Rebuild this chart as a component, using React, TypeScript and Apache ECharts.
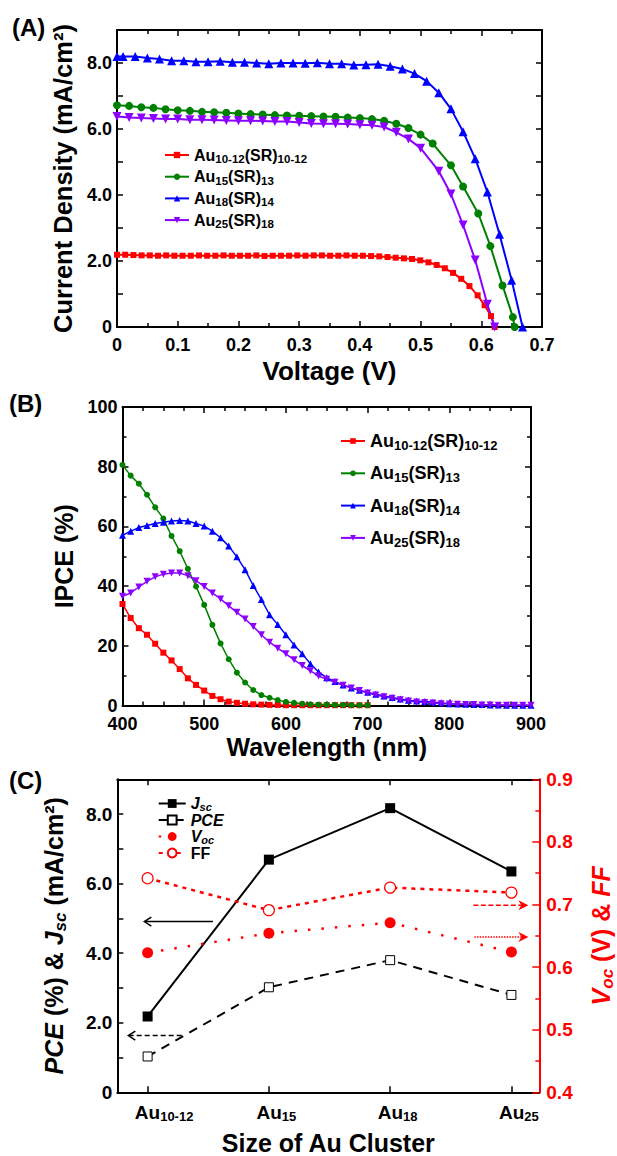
import React, { useEffect, useRef } from 'react';
import * as echarts from 'echarts';

const FONT = '"Liberation Sans", Arial, Helvetica, sans-serif';

// ---------------- Panel A : J-V curves ----------------
const A_NAMES = ['Au10-12(SR)10-12', 'Au15(SR)13', 'Au18(SR)14', 'Au25(SR)18'];
const COLORS = ['#ff0000', '#008000', '#0000ff', '#8b00ff'];
const SYMBOLS = ['rect', 'circle', 'triangle', 'triangle'];
const ROTATE = [0, 0, 0, 180];

const redV = [0, 0.0135, 0.027, 0.0405, 0.054, 0.0675, 0.081, 0.0945, 0.108, 0.1215, 0.135, 0.1485, 0.162, 0.1755, 0.189, 0.2025, 0.216, 0.2295, 0.243, 0.2565, 0.27, 0.2835, 0.297, 0.3105, 0.324, 0.3375, 0.351, 0.3645, 0.378, 0.3915, 0.405, 0.4185, 0.432, 0.4455, 0.459, 0.4725, 0.486, 0.4995, 0.513, 0.5265, 0.54, 0.5535, 0.567, 0.5805, 0.594, 0.6055, 0.616, 0.622];
const redJ = [2.19, 2.19, 2.18, 2.17, 2.17, 2.16, 2.17, 2.16, 2.16, 2.16, 2.17, 2.16, 2.16, 2.17, 2.16, 2.16, 2.16, 2.17, 2.15, 2.16, 2.16, 2.16, 2.17, 2.16, 2.17, 2.17, 2.16, 2.16, 2.17, 2.16, 2.16, 2.15, 2.14, 2.12, 2.10, 2.08, 2.06, 2.02, 1.96, 1.88, 1.78, 1.64, 1.46, 1.24, 0.96, 0.66, 0.33, 0];

const greenV = [0, 0.02, 0.04, 0.06, 0.08, 0.1, 0.12, 0.14, 0.16, 0.18, 0.2, 0.22, 0.24, 0.26, 0.28, 0.3, 0.32, 0.34, 0.36, 0.38, 0.4, 0.42, 0.44, 0.46, 0.48, 0.5, 0.52, 0.55, 0.57, 0.595, 0.615, 0.635, 0.652, 0.655];
const greenJ = [6.72, 6.7, 6.66, 6.64, 6.6, 6.57, 6.55, 6.52, 6.51, 6.49, 6.47, 6.45, 6.44, 6.42, 6.41, 6.4, 6.39, 6.38, 6.37, 6.35, 6.33, 6.3, 6.25, 6.16, 6.03, 5.83, 5.56, 4.9, 4.26, 3.44, 2.45, 1.26, 0.3, 0];

const blueV = [0, 0.01, 0.03, 0.05, 0.07, 0.09, 0.11, 0.13, 0.15, 0.17, 0.19, 0.21, 0.23, 0.25, 0.27, 0.29, 0.31, 0.33, 0.35, 0.37, 0.39, 0.41, 0.43, 0.45, 0.47, 0.49, 0.51, 0.53, 0.55, 0.57, 0.59, 0.61, 0.63, 0.65, 0.668];
const blueJ = [8.2, 8.2, 8.2, 8.15, 8.12, 8.07, 8.07, 8.04, 8.04, 8.05, 8.02, 8.02, 8.0, 7.98, 8.0, 8.0, 7.99, 8.01, 7.98, 7.98, 7.94, 7.95, 7.96, 7.9, 7.82, 7.68, 7.45, 7.1, 6.61, 5.92, 5.1, 4.09, 2.81, 1.42, 0];

const purpleV = [0, 0.02, 0.04, 0.06, 0.08, 0.1, 0.12, 0.14, 0.16, 0.18, 0.2, 0.22, 0.24, 0.26, 0.28, 0.3, 0.32, 0.34, 0.36, 0.38, 0.4, 0.42, 0.44, 0.46, 0.48, 0.5, 0.53, 0.55, 0.57, 0.59, 0.61, 0.622];
const purpleJ = [6.38, 6.35, 6.33, 6.32, 6.3, 6.3, 6.28, 6.28, 6.27, 6.26, 6.25, 6.25, 6.24, 6.23, 6.23, 6.2, 6.17, 6.16, 6.16, 6.15, 6.13, 6.11, 6.06, 5.9, 5.7, 5.42, 4.72, 4.03, 3.09, 2.03, 0.69, 0];

const A_X = [redV, greenV, blueV, purpleV];
const A_Y = [redJ, greenJ, blueJ, purpleJ];

// ---------------- Panel B : IPCE ----------------
const wlShort = [400, 410, 420, 430, 440, 450, 460, 470, 480, 490, 500, 510, 520, 530, 540, 550, 560, 570, 580, 590, 600, 610, 620, 630, 640, 650, 660, 670, 680, 690, 700];
const wlLong = [400, 410, 420, 430, 440, 450, 460, 470, 480, 490, 500, 510, 520, 530, 540, 550, 560, 570, 580, 590, 600, 610, 620, 630, 640, 650, 660, 670, 680, 690, 700, 710, 720, 730, 740, 750, 760, 770, 780, 790, 800, 810, 820, 830, 840, 850, 860, 870, 880, 890, 900];
const ipceRed = [34.0, 29.3, 25.9, 23.7, 20.7, 17.7, 15.1, 12.2, 9.1, 6.9, 5.0, 3.2, 2.1, 1.3, 0.9, 0.6, 0.4, 0.3, 0.2, 0.2, 0.1, 0.1, 0.1, 0.1, 0.1, 0.1, 0.1, 0.1, 0.1, 0.1, 0.1];
const ipceGreen = [80.6, 77.0, 74.3, 70.6, 66.4, 62.6, 56.8, 51.7, 45.8, 39.9, 33.7, 27.0, 20.8, 15.5, 11.0, 7.7, 5.2, 3.5, 2.6, 1.8, 1.2, 0.9, 0.6, 0.4, 0.3, 0.3, 0.2, 0.2, 0.1, 0.1, 0.1];
const ipceBlue = [57.0, 58.4, 59.6, 60.3, 61.0, 61.4, 61.8, 62.0, 61.8, 61.0, 60.1, 58.4, 56.2, 53.4, 49.8, 45.5, 40.2, 35.5, 30.4, 27.1, 23.7, 20.3, 17.3, 14.0, 11.2, 9.3, 8.0, 6.9, 5.9, 5.1, 4.4, 3.8, 3.2, 2.7, 2.2, 1.8, 1.5, 1.3, 1.1, 0.9, 0.6, 0.5, 0.4, 0.3, 0.3, 0.2, 0.2, 0.1, 0.1, 0.1, 0.1];
const ipcePurple = [36.6, 37.7, 39.7, 41.6, 43.1, 44.0, 44.4, 44.4, 43.5, 41.8, 39.9, 37.7, 35.7, 33.4, 31.2, 29.0, 26.5, 23.7, 21.2, 19.2, 17.3, 15.3, 13.4, 11.6, 9.9, 8.8, 7.8, 6.8, 5.9, 5.0, 4.2, 3.5, 2.9, 2.4, 1.9, 1.5, 1.2, 1.0, 0.8, 0.6, 0.5, 0.4, 0.3, 0.3, 0.2, 0.2, 0.1, 0.1, 0.1, 0.1, 0.1];
const B_X = [wlShort, wlShort, wlLong, wlLong];
const B_Y = [ipceRed, ipceGreen, ipceBlue, ipcePurple];

// ---------------- Panel C : device parameters ----------------
const clusterPos = [0, 1, 2, 3];
const clusterSub = ['10-12', '15', '18', '25'];
const jsc = [2.18, 6.69, 8.17, 6.35];
const pce = [1.03, 3.02, 3.8, 2.8];
const voc = [0.623, 0.654, 0.671, 0.624];
const ff = [0.742, 0.691, 0.727, 0.719];
// annotation arrows in data units: [x start, x tip, y]
const arrowJsc = [0.539, -0.027, 4.91]; // left axis
const arrowPce = [0.281, -0.159, 1.63]; // left axis
const arrowFF = [2.686, 3.14, 0.699]; // right axis
const arrowVoc = [2.694, 3.14, 0.648]; // right axis

const LEGEND_RICH: Record<string, string> = {
  'Au10-12(SR)10-12': '{n|Au}{s|10-12}{n|(SR)}{s|10-12}',
  'Au15(SR)13': '{n|Au}{s|15}{n|(SR)}{s|13}',
  'Au18(SR)14': '{n|Au}{s|18}{n|(SR)}{s|14}',
  'Au25(SR)18': '{n|Au}{s|25}{n|(SR)}{s|18}',
};
const C_LEGEND: Record<string, string> = {
  Jsc: '{i|J}{si|sc}',
  PCE: '{i|PCE}',
  Voc: '{i|V}{si|oc}',
  FF: '{n|FF}',
};

const bold = { fontFamily: FONT, fontWeight: 'bold' as const, color: '#000' };
const axisLine = (color = '#000') => ({ show: true, onZero: false, lineStyle: { color, width: 2 } });
const tick = (color = '#000', length = 6) => ({ show: true, inside: true, length, lineStyle: { color, width: 1.5 } });
const minor = (n: number, color = '#000') => ({ show: true, splitNumber: n, length: 4, lineStyle: { color, width: 1.5 } });
const noSplit = { show: false };

const richFor = (main: number, sub: number, lh: number, pad: number) => ({
  n: { ...bold, fontSize: main, lineHeight: lh },
  s: { ...bold, fontSize: sub, lineHeight: sub, padding: [pad, 0, 0, 0] },
});

function zip(xs: number[], ys: number[]) {
  return xs.map((x, i) => [x, ys[i]]);
}

function buildOption(): any {
  const evenLabel = (v: number) => (v === 0 ? '0' : Math.round(v) % 2 === 0 ? v.toFixed(1) : '');

  const xAxis: any[] = [
    {
      type: 'value', gridIndex: 0, position: 'bottom', min: 0, max: 0.7, interval: 0.1,
      axisLine: axisLine(), axisTick: tick(), minorTick: minor(2), splitLine: noSplit,
      axisLabel: { ...bold, fontSize: 18, lineHeight: 16, margin: 10, formatter: (v: number) => (v === 0 ? '0' : v.toFixed(1)) },
      name: 'Voltage (V)', nameLocation: 'middle', nameGap: 31,
      nameTextStyle: { ...bold, fontSize: 26 },
    },
    {
      type: 'value', gridIndex: 0, position: 'top', min: 0, max: 0.7, interval: 0.1,
      axisLine: axisLine(), axisTick: tick(), minorTick: minor(2), splitLine: noSplit, axisLabel: { show: false },
    },
    {
      type: 'value', gridIndex: 1, position: 'bottom', min: 400, max: 900, interval: 100,
      axisLine: axisLine(), axisTick: tick(), minorTick: minor(4), splitLine: noSplit,
      axisLabel: { ...bold, fontSize: 18, lineHeight: 16, margin: 10 },
      name: 'Wavelength (nm)', nameLocation: 'middle', nameGap: 29,
      nameTextStyle: { ...bold, fontSize: 25 },
    },
    {
      type: 'value', gridIndex: 1, position: 'top', min: 400, max: 900, interval: 100,
      axisLine: axisLine(), axisTick: tick(), minorTick: minor(4), splitLine: noSplit, axisLabel: { show: false },
    },
    {
      type: 'value', gridIndex: 2, position: 'bottom', min: -0.25, max: 3.23,
      axisLine: axisLine(), axisTick: { ...tick(), customValues: clusterPos }, splitLine: noSplit,
      axisLabel: {
        ...bold, fontSize: 19, margin: 9, customValues: clusterPos,
        formatter: (v: number) => {
          const i = Math.round(v);
          return `{${i === 0 ? 'a0' : 'a1'}|Au}{s|${clusterSub[i]}}`;
        },
        rich: {
          a0: { ...bold, fontSize: 19, lineHeight: 22, padding: [0, 0, 0, 33] },
          a1: { ...bold, fontSize: 19, lineHeight: 22, padding: [0, 0, 0, 15] },
          s: { ...bold, fontSize: 13, lineHeight: 13, padding: [9, 0, 0, 0] },
        },
      },
      name: 'Size of Au Cluster', nameLocation: 'middle', nameGap: 38.5,
      nameTextStyle: { ...bold, fontSize: 25, lineHeight: 25 },
    },
    {
      type: 'value', gridIndex: 2, position: 'top', min: -0.25, max: 3.23,
      axisLine: axisLine(), axisTick: { ...tick(), customValues: clusterPos }, splitLine: noSplit,
      axisLabel: { show: false, customValues: clusterPos },
    },
  ];

  const yAxis: any[] = [
    {
      type: 'value', gridIndex: 0, position: 'left', min: 0, max: 9, interval: 1,
      axisLine: axisLine(), axisTick: tick(), splitLine: noSplit,
      axisLabel: { ...bold, fontSize: 18, lineHeight: 14, margin: 5, formatter: evenLabel },
      name: 'Current Density (mA/cm²)', nameLocation: 'middle', nameGap: 30, nameRotate: 90,
      nameTextStyle: { ...bold, fontSize: 25.5 },
    },
    {
      type: 'value', gridIndex: 0, position: 'right', min: 0, max: 9, interval: 1,
      axisLine: axisLine(), axisTick: tick(), splitLine: noSplit, axisLabel: { show: false },
    },
    {
      type: 'value', gridIndex: 1, position: 'left', min: 0, max: 100, interval: 20,
      axisLine: axisLine(), axisTick: tick(), minorTick: minor(2), splitLine: noSplit,
      axisLabel: { ...bold, fontSize: 18, lineHeight: 14, margin: 5 },
      name: 'IPCE (%)', nameLocation: 'middle', nameGap: 31, nameRotate: 90,
      nameTextStyle: { ...bold, fontSize: 25 },
    },
    {
      type: 'value', gridIndex: 1, position: 'right', min: 0, max: 100, interval: 20,
      axisLine: axisLine(), axisTick: tick(), minorTick: minor(2), splitLine: noSplit, axisLabel: { show: false },
    },
    {
      type: 'value', gridIndex: 2, position: 'left', min: 0, max: 9, interval: 1,
      axisLine: axisLine(), axisTick: tick(), splitLine: noSplit,
      axisLabel: { ...bold, fontSize: 19, lineHeight: 15, margin: 5, formatter: evenLabel },
      name: '{i|PCE}{n| (%) & }{i|J}{si|sc}{n| (mA/cm²)}', nameLocation: 'middle', nameGap: 48, nameRotate: 90,
      nameTextStyle: {
        ...bold, fontSize: 25,
        rich: {
          i: { ...bold, fontSize: 25, fontStyle: 'italic', lineHeight: 30 },
          n: { ...bold, fontSize: 25, lineHeight: 30 },
          si: { ...bold, fontSize: 17, fontStyle: 'italic', lineHeight: 17, padding: [12, 0, 0, 0] },
        },
      },
    },
    {
      type: 'value', gridIndex: 2, position: 'right', min: 0.4, max: 0.9, interval: 0.1,
      axisLine: axisLine('#ff0000'), axisTick: tick('#ff0000', 7), minorTick: minor(2, '#ff0000'), splitLine: noSplit,
      axisLabel: { ...bold, color: '#ff0000', fontSize: 19, lineHeight: 15, margin: 7, formatter: (v: number) => v.toFixed(1) },
      name: '{i|V}{si|oc}{n| (V) & }{i|FF}', nameLocation: 'middle', nameGap: 47, nameRotate: 90,
      nameTextStyle: {
        ...bold, color: '#ff0000', fontSize: 25,
        rich: {
          i: { ...bold, color: '#ff0000', fontSize: 25, fontStyle: 'italic', lineHeight: 30 },
          n: { ...bold, color: '#ff0000', fontSize: 25, lineHeight: 30 },
          si: { ...bold, color: '#ff0000', fontSize: 17, fontStyle: 'italic', lineHeight: 17, padding: [12, 0, 0, 0] },
        },
      },
    },
  ];

  const series: any[] = [];
  A_NAMES.forEach((name, i) => {
    series.push({
      type: 'line', name, xAxisIndex: 0, yAxisIndex: 0,
      data: zip(A_X[i], A_Y[i]),
      symbol: SYMBOLS[i], symbolRotate: ROTATE[i], symbolSize: [6, 8, 9, 9][i],
      itemStyle: { color: COLORS[i] }, lineStyle: { color: COLORS[i], width: 2 },
      emphasis: { disabled: true },
    });
  });
  A_NAMES.forEach((name, i) => {
    series.push({
      type: 'line', name: name + ' IPCE', xAxisIndex: 2, yAxisIndex: 2,
      data: zip(B_X[i], B_Y[i]),
      symbol: SYMBOLS[i], symbolRotate: ROTATE[i], symbolSize: [6, 6, 7, 7][i],
      itemStyle: { color: COLORS[i] }, lineStyle: { color: COLORS[i], width: 1.5 },
      emphasis: { disabled: true },
    });
  });

  series.push({
    type: 'line', name: 'Jsc', xAxisIndex: 4, yAxisIndex: 4,
    data: zip(clusterPos, jsc), symbol: 'rect', symbolSize: 10,
    itemStyle: { color: '#000' }, lineStyle: { color: '#000', width: 2 },
    emphasis: { disabled: true },
  });
  series.push({
    type: 'line', name: 'PCE', xAxisIndex: 4, yAxisIndex: 4,
    data: zip(clusterPos, pce), symbol: 'rect', symbolSize: 9,
    itemStyle: { color: '#ffffff', borderColor: '#000', borderWidth: 1 },
    lineStyle: { color: '#000', width: 2, type: [9, 7] },
    emphasis: { disabled: true },
  });
  series.push({
    type: 'line', name: 'Voc', xAxisIndex: 4, yAxisIndex: 5,
    data: zip(clusterPos, voc), symbol: 'circle', symbolSize: 11,
    itemStyle: { color: '#ff0000' }, lineStyle: { color: '#ff0000', width: 2.5, type: [2.5, 11] },
    emphasis: { disabled: true },
  });
  series.push({
    type: 'line', name: 'FF', xAxisIndex: 4, yAxisIndex: 5,
    data: zip(clusterPos, ff), symbol: 'circle', symbolSize: 11,
    itemStyle: { color: '#ffffff', borderColor: '#ff0000', borderWidth: 1.2 },
    lineStyle: { color: '#ff0000', width: 2.5, type: [4, 5] },
    emphasis: { disabled: true },
  });

  return {
    animation: false,
    backgroundColor: '#ffffff',
    textStyle: { fontFamily: FONT },
    title: [
      { text: '(A)', left: 12, top: 15, padding: 0, textStyle: { ...bold, fontSize: 24 } },
      { text: '(B)', left: 9, top: 391, padding: 0, textStyle: { ...bold, fontSize: 24 } },
      { text: '(C)', left: 9, top: 768, padding: 0, textStyle: { ...bold, fontSize: 24 } },
    ],
    grid: [
      { left: 117, top: 30, width: 425, height: 297, outerBoundsMode: 'none' },
      { left: 122.5, top: 407, width: 408.5, height: 298.5, outerBoundsMode: 'none' },
      { left: 117.3, top: 779.3, width: 422, height: 313, outerBoundsMode: 'none' },
    ],
    legend: [
      {
        orient: 'vertical', left: 159, top: 140, itemWidth: 24, itemHeight: 8, itemGap: 1.7,
        selectedMode: false, data: A_NAMES,
        formatter: (name: string) => LEGEND_RICH[name],
        textStyle: { ...bold, fontSize: 16, rich: richFor(16, 11.5, 20, 8) },
      },
      {
        orient: 'vertical', left: 335, top: 425, itemWidth: 24, itemHeight: 7, itemGap: 10.3,
        selectedMode: false, data: A_NAMES.map((n) => n + ' IPCE'),
        formatter: (name: string) => LEGEND_RICH[name.replace(' IPCE', '')],
        textStyle: { ...bold, fontSize: 18, rich: richFor(18, 13, 22, 9) },
      },
      {
        orient: 'vertical', left: 152.7, top: 790, itemWidth: 27, itemHeight: 11, itemGap: 0,
        selectedMode: false, data: ['Jsc', 'PCE', 'Voc', 'FF'],
        formatter: (name: string) => C_LEGEND[name],
        textStyle: {
          ...bold, fontSize: 16,
          rich: {
            i: { ...bold, fontSize: 16, fontStyle: 'italic', lineHeight: 17 },
            n: { ...bold, fontSize: 16, lineHeight: 17 },
            si: { ...bold, fontSize: 11, fontStyle: 'italic', lineHeight: 11, padding: [6, 0, 0, 0] },
          },
        },
      },
    ],
    xAxis,
    yAxis,
    series,
  };
}

function arrowGraphics(chart: any): any[] {
  const toPx = (yIdx: number, x: number, y: number) =>
    chart.convertToPixel({ xAxisIndex: 4, yAxisIndex: yIdx }, [x, y]) as number[];
  const out: any[] = [];
  const black = [
    { a: arrowJsc, dash: null as any },
    { a: arrowPce, dash: [5, 3] },
  ];
  black.forEach(({ a, dash }) => {
    const s = toPx(4, a[0], a[2]);
    const t = toPx(4, a[1], a[2]);
    out.push({
      type: 'line', silent: true, z: 50,
      shape: { x1: s[0], y1: s[1], x2: t[0] + 1, y2: t[1] },
      style: { stroke: '#000', lineWidth: 1.5, lineDash: dash },
    });
    out.push({
      type: 'polyline', silent: true, z: 50,
      shape: { points: [[t[0] + 7, t[1] - 4.5], [t[0], t[1]], [t[0] + 7, t[1] + 4.5]] },
      style: { stroke: '#000', lineWidth: 1.5, fill: 'none' },
    });
  });
  const red = [
    { a: arrowFF, dash: [5, 2.5] },
    { a: arrowVoc, dash: [1.5, 1.2] },
  ];
  red.forEach(({ a, dash }) => {
    const s = toPx(5, a[0], a[2]);
    const t = toPx(5, a[1], a[2]);
    out.push({
      type: 'line', silent: true, z: 50,
      shape: { x1: s[0], y1: s[1], x2: t[0] - 6, y2: t[1] },
      style: { stroke: '#ff0000', lineWidth: 1.5, lineDash: dash },
    });
    out.push({
      type: 'polygon', silent: true, z: 50,
      shape: { points: [[t[0], t[1]], [t[0] - 10, t[1] - 5], [t[0] - 7, t[1]], [t[0] - 10, t[1] + 5]] },
      style: { fill: '#ff0000' },
    });
  });
  return out;
}

export default function App() {
  const ref = useRef<HTMLDivElement>(null);
  useEffect(() => {
    if (!ref.current) return;
    const chart = echarts.init(ref.current, undefined, { renderer: 'svg' });
    chart.setOption(buildOption());
    chart.setOption({ graphic: arrowGraphics(chart) });
    return () => chart.dispose();
  }, []);
  return (
    <div
      ref={ref}
      style={{ position: 'absolute', left: 0, top: 0, width: 617, height: 1156, background: '#fff' }}
    />
  );
}
